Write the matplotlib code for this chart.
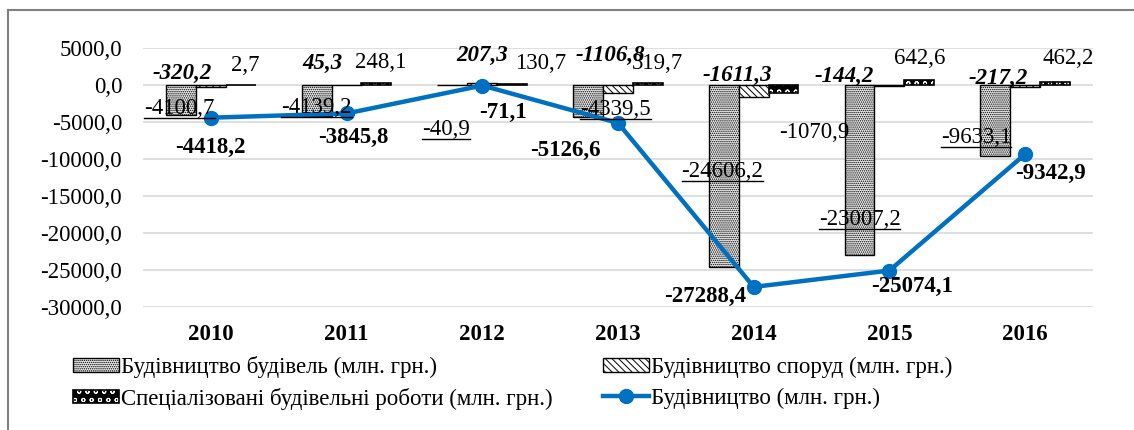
import matplotlib
matplotlib.use("Agg")
import matplotlib.pyplot as plt
import numpy as np
from matplotlib.lines import Line2D
from matplotlib.legend_handler import HandlerTuple

# values
years = ["2010", "2011", "2012", "2013", "2014", "2015", "2016"]
buildings = [-4100.7, -4139.2, -40.9, -4339.5, -24606.2, -23007.2, -9633.1]
structures = [-320.2, 45.3, 207.3, -1106.8, -1611.3, -144.2, -217.2]
special = [2.7, 248.1, 130.7, 319.7, -1070.9, 642.6, 462.2]
total = [-4418.2, -3845.8, -71.1, -5126.6, -27288.4, -25074.1, -9342.9]

names = ["Будівництво будівель (млн. грн.)",
         "Будівництво споруд (млн. грн.)",
         "Спеціалізовані будівельні роботи (млн. грн.)",
         "Будівництво (млн. грн.)"]

# label placement (x offset from category, y in data units)
lab_bld = [(-0.23, -3242), (-0.22, -3107), (-0.27, -6080), (-0.02, -3378),
           (-0.23, -11754), (-0.22, -18239), (-0.36, -7160)]
lab_str = [(-0.21, 1621), (-0.18, 2972), (0.0, 4053), (-0.06, 4053),
           (-0.12, 1351), (-0.33, 1216), (-0.20, 946)]
lab_spc = [(0.25, 2702), (0.25, 3107), (0.43, 2972), (0.29, 2972),
           (0.45, -6485), (0.22, 3648), (0.32, 3648)]
lab_tot = [(0.0, -8376), (0.05, -7025), (0.15, -3648), (-0.39, -8782),
           (-0.36, -28641), (0.17, -27290), (0.19, -11889)]


def fmt(v):
    return f"{v:.1f}".replace(".", ",")


plt.rcParams["font.family"] = ["Liberation Serif", "DejaVu Serif"]
plt.rcParams["hatch.linewidth"] = 0.7
fs = 16.5

fig = plt.figure(figsize=(11.34, 4.30), dpi=100)
ax = fig.add_axes([143 / 1134, 1 - 307 / 430, 950 / 1134, 259 / 430])

x = np.arange(len(years))
w = 0.22
blue = "#0070C0"

b1 = ax.bar(x - w, buildings, w, facecolor="#EDEDED", edgecolor="black",
            hatch="........", linewidth=1.0, zorder=2)
b2 = ax.bar(x, structures, w, facecolor="white", edgecolor="black",
            hatch="\\\\\\\\\\", linewidth=1.0, zorder=2)
b3a = ax.bar(x + w, special, w, facecolor="black", edgecolor="white",
             hatch="oo", linewidth=0, zorder=2)
b3b = ax.bar(x + w, special, w, fill=False, edgecolor="black",
             linewidth=1.2, zorder=2)
ln, = ax.plot(x, total, color=blue, lw=3.2, marker="o", ms=10, zorder=4)

ax.set_xlim(-0.5, len(years) - 0.5)
ax.set_ylim(-30000, 5000)
ticks = np.arange(-30000, 5001, 5000)
ax.set_yticks(ticks)
ax.set_yticklabels([fmt(t) for t in ticks], fontsize=fs)
ax.set_xticks(x)
ax.set_xticklabels(years, fontsize=fs, fontweight="bold")
ax.tick_params(axis="y", length=0, pad=15)
ax.tick_params(axis="x", length=0, pad=12)
ax.grid(axis="y", color="#D9D9D9", lw=1.2, zorder=0)
ax.set_axisbelow(True)
for s in ax.spines.values():
    s.set_visible(False)

bld_texts = []
for i in range(len(years)):
    t = ax.text(x[i] + lab_bld[i][0], lab_bld[i][1], fmt(buildings[i]),
                ha="center", va="center", fontsize=fs, zorder=5)
    bld_texts.append(t)
    ax.text(x[i] + lab_str[i][0], lab_str[i][1], fmt(structures[i]),
            ha="center", va="center", fontsize=fs, fontweight="bold",
            style="italic", zorder=5)
    ax.text(x[i] + lab_spc[i][0], lab_spc[i][1], fmt(special[i]),
            ha="center", va="center", fontsize=fs, zorder=5)
    ax.text(x[i] + lab_tot[i][0], lab_tot[i][1], fmt(total[i]),
            ha="center", va="center", fontsize=fs, fontweight="bold", zorder=5)

# legends: two columns placed by hand
kw = dict(frameon=False, fontsize=fs, handlelength=2.0, handleheight=0.55,
          handletextpad=0.1, labelspacing=0.4, borderpad=0, borderaxespad=0,
          loc="center left")
leg1 = fig.legend([b1, (b3a, b3b)], [names[0], names[2]],
                  bbox_to_anchor=(73 / 1134, 1 - 383 / 430),
                  handler_map={tuple: HandlerTuple(ndivide=1)}, **kw)
leg2 = fig.legend([b2, ln], [names[1], names[3]],
                  bbox_to_anchor=(603 / 1134, 1 - 383 / 430), **kw)

# outer frame (left and top edges)
fig.add_artist(Line2D([8 / 1134, 8 / 1134], [0, 1 - 10 / 430],
                      transform=fig.transFigure, color="#808080", lw=1.5))
fig.add_artist(Line2D([8 / 1134, 1], [1 - 10 / 430, 1 - 10 / 430],
                      transform=fig.transFigure, color="#808080", lw=1.5))

# underline the building labels
fig.canvas.draw()
r = fig.canvas.get_renderer()
for t in bld_texts:
    bb = t.get_window_extent(renderer=r)
    x0, y0 = fig.transFigure.inverted().transform((bb.x0, bb.y0 + 1))
    x1, _ = fig.transFigure.inverted().transform((bb.x1, bb.y0 + 1))
    fig.add_artist(Line2D([x0, x1], [y0, y0], transform=fig.transFigure,
                          color="black", lw=1.0, zorder=6))

fig.savefig("out.png", dpi=100)
